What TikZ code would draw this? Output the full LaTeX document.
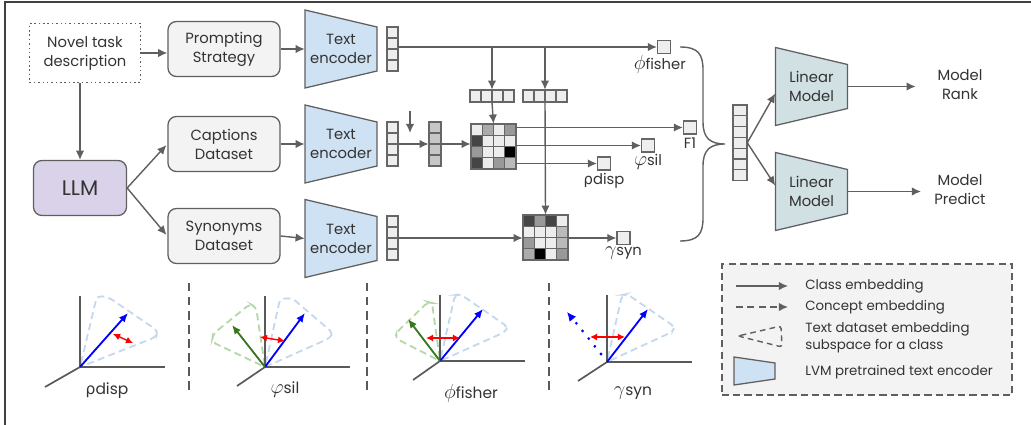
\documentclass[tikz,border=0pt]{standalone}
\usepackage{fontspec}
\setmainfont{Poppins}
\newfontfamily\greekfont{DejaVu Sans}
\usetikzlibrary{arrows.meta, calc, positioning}

\definecolor{linegray}{HTML}{5F5F5F}
\definecolor{textgray}{HTML}{333333}
\definecolor{boxfill}{HTML}{F3F3F3}
\definecolor{llmfill}{HTML}{D9D2E9}
\definecolor{encfill}{HTML}{CFE2F3}
\definecolor{linfill}{HTML}{D0E0E3}
\definecolor{cellfill}{HTML}{EEEEEE}
\definecolor{wedgeblue}{HTML}{C4D8EE}
\definecolor{wedgegreen}{HTML}{B6D7A8}
\definecolor{darkgreen}{HTML}{38761D}

\newcommand{\gk}[1]{{\fontsize{14}{14}\selectfont$#1$}}

\tikzset{
  arr/.style={-{Latex[length=6.5pt,width=6pt]}, line width=1pt, draw=linegray},
  plainline/.style={line width=1pt, draw=linegray},
  taskbox/.style={
    rectangle, draw=linegray, dotted, line width=1.1pt, minimum width=2.775cm,
    minimum height=1.475cm, align=center, text=textgray
  },
  stepbox/.style={
    rectangle, rounded corners=6pt, draw=linegray, line width=0.9pt, fill=boxfill,
    minimum width=2.8cm, minimum height=1.375cm, align=center, text=textgray
  },
  llmbox/.style={
    rectangle, rounded corners=6pt, draw=linegray, line width=0.9pt, fill=llmfill,
    minimum width=2.325cm, minimum height=1.375cm, font=\fontsize{15}{17}\selectfont, text=textgray
  },
  trapline/.style={draw=linegray, line width=0.9pt},
  traptext/.style={
    inner sep=0pt, minimum width=1.8cm, minimum height=1.1cm, align=center, text=textgray
  },
  cellline/.style={draw=black!60, line width=0.8pt},
  score/.style={draw=black!60, line width=0.8pt, fill=cellfill, minimum size=0.325cm, inner sep=0pt},
  scorelbl/.style={text=textgray, inner sep=1pt},
  keytext/.style={anchor=west, inner sep=0pt, align=left, text=textgray, font=\fontsize{9.5}{12}\selectfont},
  axis/.style={draw=black!65, line width=1.2pt},
  vecblue/.style={-{Latex[length=6.5pt,width=5.5pt]}, draw=blue, line width=1.3pt},
  vecgreen/.style={-{Latex[length=6.5pt,width=5.5pt]}, draw=darkgreen, line width=1.3pt},
  gap/.style={{Latex[length=5pt,width=5pt]}-{Latex[length=5pt,width=5pt]}, draw=red, line width=1pt},
  coneblue/.style={draw=wedgeblue, dash pattern=on 5pt off 3pt, line width=1.3pt, rounded corners=3pt},
  conegreen/.style={draw=wedgegreen, dash pattern=on 5pt off 3pt, line width=1.3pt, rounded corners=3pt},
  panellbl/.style={text=textgray, font=\fontsize{11}{13}\selectfont}
}

% trapezoid block: name, centre x, centre y, fill, text
\newcommand{\trapnode}[5]{%
  \draw[trapline, fill=#4] ({#2-36},{#3-39}) -- ({#2+36},{#3-22}) -- ({#2+36},{#3+22}) -- ({#2-36},{#3+39}) -- cycle;
  \node[traptext] (#1) at (#2,#3) {#5};
}
% column of cells: name, centre x, top y, cells, cell w, cell h, fill
\newcommand{\cellvec}[7]{%
  \foreach \k in {1,...,#4}
    \draw[cellline, fill=#7] ({#2-#5/2},{#3+(\k-1)*#6}) rectangle ({#2+#5/2},{#3+\k*#6});
  \node[inner sep=0pt, minimum width=#5*0.025cm, minimum height=#4*#6*0.025cm] (#1) at (#2,{#3+#4*#6/2}) {};
}
% row of cells: name, left x, centre y, cells
\newcommand{\rowvec}[4]{%
  \foreach \k in {1,...,#4}
    \draw[cellline, fill=cellfill] ({#2+(\k-1)*11},{#3-6}) rectangle ({#2+\k*11},{#3+6});
  \node[inner sep=0pt, minimum width=#4*11*0.025cm, minimum height=0.3cm] (#1) at ({#2+#4*5.5},#3) {};
}
% 4x4 similarity matrix: name, left x, top y, shades
\newcommand{\heatmap}[4]{%
  \foreach \s [count=\k from 0] in {#4} {
    \pgfmathtruncatemacro{\rr}{\k/4}
    \pgfmathtruncatemacro{\cc}{mod(\k,4)}
    \draw[cellline, fill=black!\s] ({#2+\cc*11.25},{#3+\rr*11.25}) rectangle ++(11.25,11.25);
  }
  \node[inner sep=0pt, minimum size=1.125cm] (#1) at ({#2+22.5},{#3+22.5}) {};
}

\begin{document}
\begin{tikzpicture}[x=0.025cm, y=-0.025cm, every node/.style={font=\fontsize{10.5}{13.5}\selectfont}]
  \useasboundingbox (0,0) rectangle (1031,425);
  % page frame
  \draw[black!75, line width=1.5pt] (5,425) -- (5,2) -- (1031,2);

  % left column
  \node[taskbox] (task) at (85,53) {Novel task\\description};
  \node[stepbox] (prompt) at (224,49) {Prompting\\Strategy};
  \node[stepbox] (capt) at (224,144) {Captions\\Dataset};
  \node[stepbox] (syn) at (224,236) {Synonyms\\Dataset};
  \node[llmbox] (llm) at (80,188) {LLM};

  \draw[arr] (task.east) -- (task.east -| prompt.west);
  \draw[arr] (llm.north |- task.south) -- (llm.north);
  \draw[arr, shorten >=1pt] (llm.east) -- (capt.west);
  \draw[arr, shorten >=1pt] (llm.east) -- (syn.west);

  % text encoders
  \trapnode{enc1}{341}{49}{encfill}{Text\\encoder}
  \trapnode{enc2}{341}{144}{encfill}{Text\\encoder}
  \trapnode{enc3}{341}{238.5}{encfill}{Text\\encoder}
  \draw[arr] (prompt.east) -- (enc1.west);
  \draw[arr] (capt.east) -- (enc2.west);
  \draw[arr] (syn.east) -- (enc3.west);

  % embeddings
  \cellvec{v1}{392.5}{27}{4}{11}{11}{cellfill}
  \cellvec{v2}{392.5}{122}{4}{11}{11}{cellfill}
  \cellvec{v3}{392.5}{216}{4}{11}{11}{cellfill}
  \cellvec{gv}{435}{122}{4}{12}{11}{black!22}
  \rowvec{hv1}{470}{96}{4}
  \rowvec{hv2}{523}{96}{4}
  \heatmap{m1}{471}{124}{7,33,7,40,73,7,7,7,40,7,7,100,73,7,40,27}
  \heatmap{m2}{523}{215}{73,40,73,7,7,7,7,27,40,7,7,27,33,100,7,40}

  % scores
  \node[score] (phiF) at (664,47) {};
  \node[score] (f1) at (690,127.5) {};
  \node[score] (sil) at (648,145.5) {};
  \node[score] (disp) at (604,163.5) {};
  \node[score] (gsyn) at (623.5,238) {};
  \node[scorelbl, below=0pt of phiF, xshift=-3pt] {\gk{\phi}fisher};
  \node[scorelbl, below=1pt of f1] {F1};
  \node[scorelbl, below=0pt of sil] {\gk{\varphi}sil};
  \node[scorelbl, below=1pt of disp] {{\greekfont ρ}disp};
  \node[scorelbl, below=0pt of gsyn] {\gk{\gamma}syn};

  \draw[arr] (v1.east |- phiF) -- (phiF.west);
  \draw[arr] (hv1.north |- phiF) -- (hv1.north);
  \draw[arr] (hv2.north |- phiF) -- (hv2.north);
  \draw[arr] (hv1.south) -- (m1.north);
  \draw[arr] (hv2.south) -- (m2.north);
  \coordinate (hint) at (410,111);
  \coordinate (hintend) at (410,133);
  \draw[arr] (hint) -- (hintend);
  \draw[arr] (v2.east) -- (v2.east -| gv.west);
  \draw[arr] (gv.east) -- (gv.east -| m1.west);
  \draw[arr] (m1.east |- f1) -- (f1.west);
  \draw[arr] (m1.east |- sil) -- (sil.west);
  \draw[arr] (m1.east |- disp) -- (disp.west);
  \draw[arr] (v3.east) -- (v3.east -| m2.west);
  \draw[arr] (m2.east |- gsyn) -- (gsyn.west);

  % brace into the feature vector
  \draw[plainline] (680,47) .. controls (698,47) and (703,54) .. (703,70) -- (703,122)
    .. controls (703,138) and (710,144) .. (725,144) .. controls (710,144) and (703,150) .. (703,166)
    -- (703,218) .. controls (703,234) and (698,241) .. (680,241);
  \cellvec{tv}{740}{105}{7}{14}{10.8}{cellfill}

  % linear models
  \trapnode{lin1}{811.5}{86.5}{linfill}{Linear\\Model}
  \trapnode{lin2}{811.5}{191.5}{linfill}{Linear\\Model}
  \draw[arr] (tv.east) -- ($(lin1.west)+(0,7)$);
  \draw[arr] (tv.east) -- ($(lin2.west)+(0,-6)$);
  \node[text=textgray, align=center] (rank) at (960,85) {Model\\Rank};
  \node[text=textgray, align=center] (pred) at (960,190) {Model\\Predict};
  \draw[arr, shorten >=12pt] (lin1.east) -- (lin1.east -| rank.west);
  \draw[arr, shorten >=6pt] (lin2.east) -- (lin2.east -| pred.west);

  % legend
  \node[draw=linegray, dash pattern=on 5pt off 3pt, line width=1pt, fill=boxfill,
        minimum width=7.25cm, minimum height=3.275cm] (legend) at (867,329.5) {};
  \coordinate (k1a) at (736,286);
  \coordinate (k1b) at (788,286);
  \coordinate (k2a) at (736,307);
  \coordinate (k2b) at (788,307);
  \draw[arr] (k1a) -- (k1b);
  \draw[arr, dash pattern=on 5pt off 3pt] (k2a) -- (k2b);
  \draw[linegray, line width=1pt, dash pattern=on 4pt off 3pt, rounded corners=2pt]
    (738,336) -- (781,326) -- (782,347) -- cycle;
  \draw[trapline, fill=encfill] (734,357) -- (775,363) -- (775,379) -- (734,385) -- cycle;
  \node[keytext] at (805,286) {Class embedding};
  \node[keytext] at (805,307) {Concept embedding};
  \node[keytext] at (805,338) {Text dataset embedding\\subspace for a class};
  \node[keytext] at (805,372) {LVM pretrained text encoder};

  % panel separators
  \foreach \sx in {189,367,549}
    \draw[black!65, line width=1.3pt, dash pattern=on 6pt off 4pt] (\sx,283) -- (\sx,395);

  % panel: dispersion
  \begin{scope}[shift={(80,367)}]
    \draw[coneblue] (0,0) -- (17,-71) -- (28,-70) -- (78,-36) -- (76,-30) -- cycle;
    \draw[axis] (0,-71) -- (0,0) -- (85,0);
    \draw[axis] (0,0) -- (-35,20);
    \draw[vecblue] (0,0) -- (48,-54);
    \draw[gap] (33,-33) -- (53,-24);
  \end{scope}
  \node[panellbl] at (107,391) {{\greekfont ρ}disp};

  % panel: silhouette
  \begin{scope}[shift={(265,367)}]
    \draw[coneblue] (0,0) -- (15,-68) -- (27,-69) -- (68,-34) -- (65,-29) -- cycle;
    \draw[conegreen] (0,0) -- (-53,-25) -- (-52,-33) -- (-15,-63) -- (-9,-60) -- cycle;
    \draw[axis] (0,-71) -- (0,0) -- (85,0);
    \draw[axis] (0,0) -- (-28,19);
    \draw[vecblue] (0,0) -- (40,-54);
    \draw[vecgreen] (0,0) -- (-33,-42);
    \draw[gap] (-5,-30) -- (20,-26);
  \end{scope}
  \node[panellbl] at (285,390) {\gk{\varphi}sil};

  % panel: fisher
  \begin{scope}[shift={(440,361)}]
    \draw[coneblue] (0,0) -- (15,-66) -- (20,-67) -- (68,-34) -- (65,-29) -- cycle;
    \draw[conegreen] (0,0) -- (-45,-23) -- (-43,-29) -- (-12,-59) -- (-8,-58) -- cycle;
    \draw[axis] (0,-66) -- (0,0) -- (85,0);
    \draw[axis] (0,0) -- (-27,19);
    \draw[vecblue] (0,0) -- (43,-52);
    \draw[vecgreen] (0,0) -- (-32,-42);
    \draw[gap] (-14,-23) -- (20,-23);
  \end{scope}
  \node[panellbl] at (471,393) {\gk{\phi}fisher};

  % panel: synonyms
  \begin{scope}[shift={(607,362)}]
    \draw[coneblue] (0,0) -- (15,-67) -- (20,-68) -- (68,-35) -- (65,-30) -- cycle;
    \draw[axis] (0,-67) -- (0,0) -- (85,0);
    \draw[axis] (0,0) -- (-29,19);
    \draw[vecblue] (0,0) -- (41,-53);
    \draw[draw=blue, line width=2.2pt, line cap=round, dash pattern=on 0pt off 7pt] (-6,-8) -- (-34,-43);
    \draw[draw=blue, -{Latex[length=6.5pt,width=6pt]}, line width=1pt] (-36,-45) -- (-40,-50);
    \draw[gap] (-17,-25) -- (18,-25);
  \end{scope}
  \node[panellbl] at (633,393) {\gk{\gamma}syn};
\end{tikzpicture}
\end{document}
